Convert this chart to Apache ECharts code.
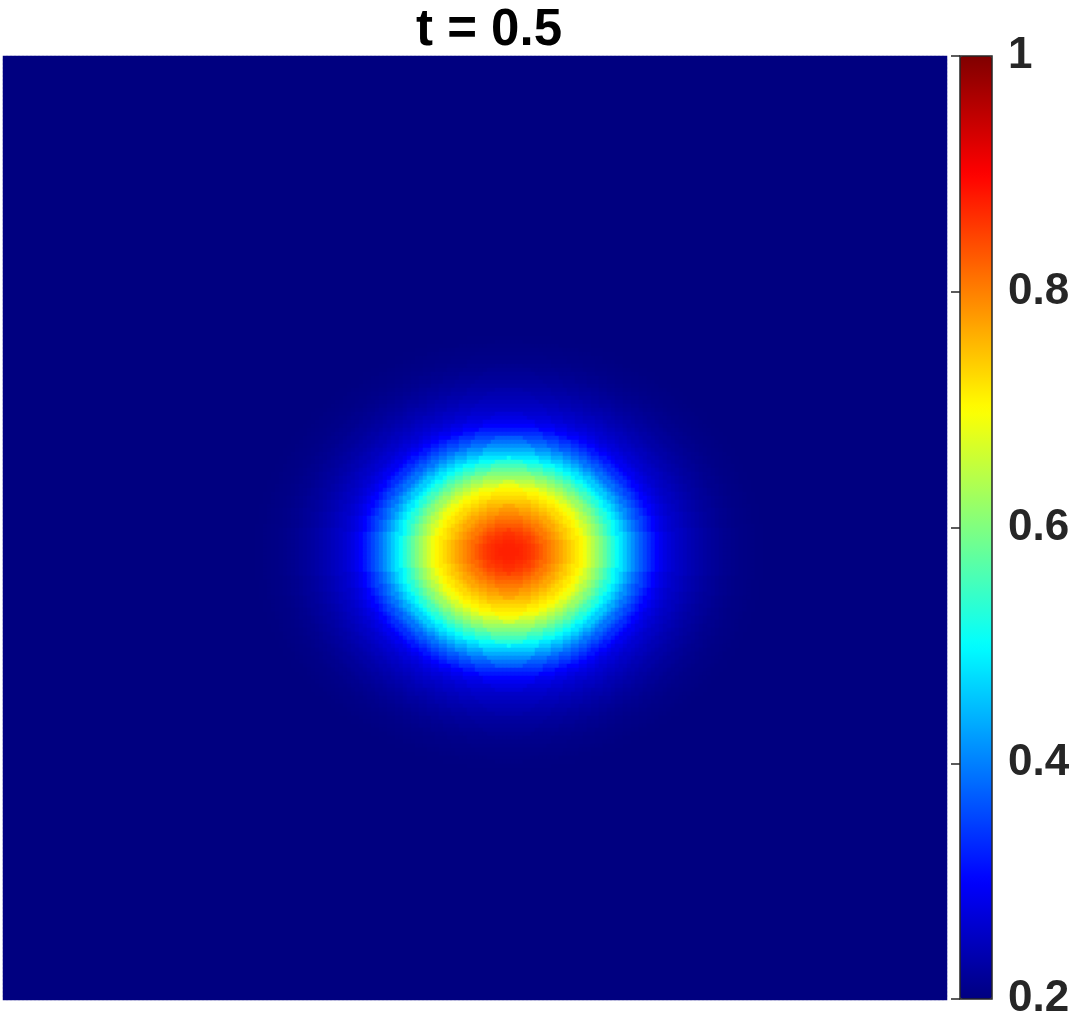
<!DOCTYPE html>
<html>
<head>
<meta charset="utf-8">
<title>t = 0.5</title>
<script src="https://cdn.jsdelivr.net/npm/echarts@6/dist/echarts.min.js"></script>
<style>
  html, body { margin: 0; padding: 0; background: #fff; }
  #main { width: 1075px; height: 1023px; }
</style>
</head>
<body>
<div id="main"></div>
<script>
// field values read off the picture along the line through the peak,
// one entry per cell step outward from the peak (cell = 1/236 of the square)
var profile = [
  0.875, 0.875, 0.874, 0.871, 0.866, 0.860, 0.852, 0.842, 0.830, 0.817,
  0.805, 0.793, 0.781, 0.769, 0.756, 0.743, 0.730, 0.717, 0.706, 0.688,
  0.665, 0.643, 0.621, 0.600, 0.577, 0.553, 0.530, 0.506, 0.482, 0.459,
  0.435, 0.412, 0.390, 0.371, 0.353, 0.335, 0.317, 0.300, 0.288, 0.278,
  0.270, 0.263, 0.257, 0.252, 0.247, 0.242, 0.238, 0.234, 0.230, 0.226,
  0.223, 0.220, 0.217, 0.214, 0.212, 0.210, 0.208, 0.206, 0.205, 0.204,
  0.203, 0.202, 0.201, 0.201, 0.200
];
var nCells = 236;
var peakX = 126;     // peak column (cells from left)
var peakY = 123.5;   // peak row (cells from top)
var squeeze = 1.17;  // contours are wider than tall by this ratio

var colorTicks = [0.2, 0.4, 0.6, 0.8, 1];
// jet colormap, 9 stops at equal spacing
var jet = ["#000080", "#0000ff", "#0080ff", "#00ffff", "#80ff80",
           "#ffff00", "#ff8000", "#ff0000", "#800000"];

var cols = [], rows = [], cells = [];
for (var i = 0; i < nCells; i++) {
  cols.push(i);
  rows.push(i);
}
for (var j = 0; j < nCells; j++) {
  for (var i = 0; i < nCells; i++) {
    var dx = i - peakX, dy = (j - peakY) * squeeze;
    var k = Math.round(Math.sqrt(dx * dx + dy * dy));
    if (k > profile.length - 1) k = profile.length - 1;
    cells.push([i, j, profile[k]]);
  }
}

var font = "'Liberation Sans', Arial, sans-serif";
var chart = echarts.init(document.getElementById("main"));
chart.setOption({
  animation: false,
  title: {
    text: "t = 0.5",
    left: 484,
    top: 0,
    textAlign: "center",
    textStyle: { fontFamily: font, fontWeight: "bold", fontSize: 51, color: "#000" }
  },
  grid: [
    { left: 3, top: 56, width: 944, height: 944 },
    { left: 960, top: 56, width: 32, height: 943 }
  ],
  xAxis: [
    { type: "category", data: cols, show: false, gridIndex: 0 },
    { type: "value", show: false, gridIndex: 1 }
  ],
  yAxis: [
    { type: "category", data: rows, inverse: true, show: false, gridIndex: 0 },
    {
      type: "value",
      gridIndex: 1,
      position: "right",
      min: colorTicks[0],
      max: colorTicks[colorTicks.length - 1],
      interval: 0.2,
      z: 10,
      axisLine: { show: false },
      splitLine: { show: false },
      axisTick: { inside: true, length: 9, lineStyle: { color: "#262626", width: 1.5 } },
      axisLabel: {
        margin: 16,
        fontFamily: font,
        fontWeight: "bold",
        fontSize: 44,
        color: "#262626"
      }
    }
  ],
  visualMap: {
    type: "continuous",
    seriesIndex: 0,
    min: colorTicks[0],
    max: colorTicks[colorTicks.length - 1],
    calculable: false,
    orient: "vertical",
    left: 960,
    top: 56,
    padding: 0,
    itemWidth: 32,
    itemHeight: 943,
    inRange: { color: jet }
  },
  graphic: [
    {
      type: "rect",
      z: 100,
      shape: { x: 960, y: 56, width: 32, height: 943 },
      style: { fill: null, stroke: "#262626", lineWidth: 1.5 }
    }
  ],
  series: [
    {
      type: "heatmap",
      xAxisIndex: 0,
      yAxisIndex: 0,
      progressive: 0,
      itemStyle: { borderWidth: 0 },
      data: cells
    }
  ]
});
</script>
</body>
</html>
